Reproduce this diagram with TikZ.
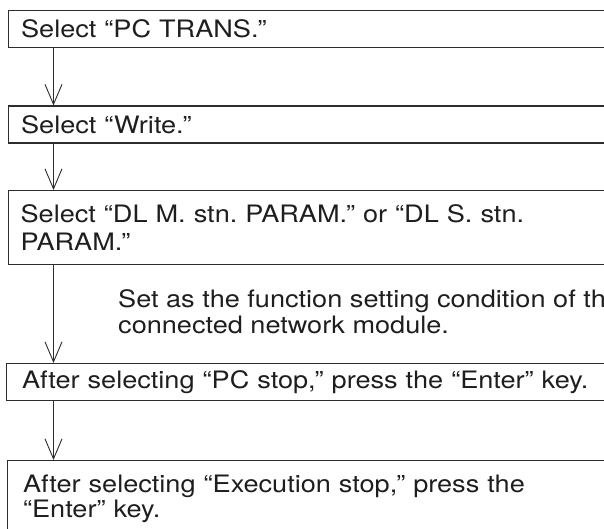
\documentclass[tikz,border=0pt]{standalone}
\usepackage{fontspec}
\setmainfont{TeX Gyre Heros}[FakeStretch=1.13]
\usepackage{tikz}
\usetikzlibrary{arrows.meta,positioning,calc}
\usepackage{xcolor}
\definecolor{lineink}{RGB}{45,45,45}
\definecolor{textink}{RGB}{30,30,30}
\frenchspacing

\tikzset{
  stepbox/.style={draw=lineink, line width=1.2pt, anchor=north west, text=textink,
    text width=600pt, align=left, inner xsep=12.5pt, inner ysep=0pt,
    font=\fontsize{24}{28}\selectfont},
  flowarrow/.style={draw=lineink, line width=0.9pt, -{Straight Barb[length=20pt,width=17pt]}}
}

\begin{document}
\begin{tikzpicture}[x=1pt,y=-1pt]
    \useasboundingbox (0,0) rectangle (604,529);
    \clip (0,0) rectangle (604,529);
    \coordinate (axis) at (53.5,0);
    \node[stepbox, minimum height=37pt] (trans) at (8,10) {Select “PC TRANS.”};
    \node[stepbox, minimum height=37pt] (write) at (8,105.5) {Select “Write.”};
    \node[stepbox, minimum height=74pt] (param) at (7.5,190)
        {Select “DL M. stn. PARAM.” or “DL S. stn.\\PARAM.”};
    \node[anchor=north west, text=textink, align=left, inner sep=0pt,
        font=\fontsize{24}{25.5}\selectfont] (note) at (118,289.7)
        {Set as the function setting condition of the\\connected network module.};
    \node[stepbox, minimum height=37pt, inner xsep=15.5pt] (pcstop) at (6,363)
        {After selecting “PC stop,” press the “Enter” key.};
    \node[stepbox, inner xsep=15.5pt, inner ysep=14.7pt,
        font=\fontsize{24}{25}\selectfont] (exstop) at (7,460)
        {After selecting “Execution stop,” press the\\“Enter” key.};
    \draw[flowarrow] (trans.south -| axis) -- (write.north -| axis);
    \draw[flowarrow] (write.south -| axis) -- (param.north -| axis);
    \draw[flowarrow] (param.south -| axis) -- (pcstop.north -| axis);
    \draw[flowarrow] (pcstop.south -| axis) -- (exstop.north -| axis);
\end{tikzpicture}
\end{document}
